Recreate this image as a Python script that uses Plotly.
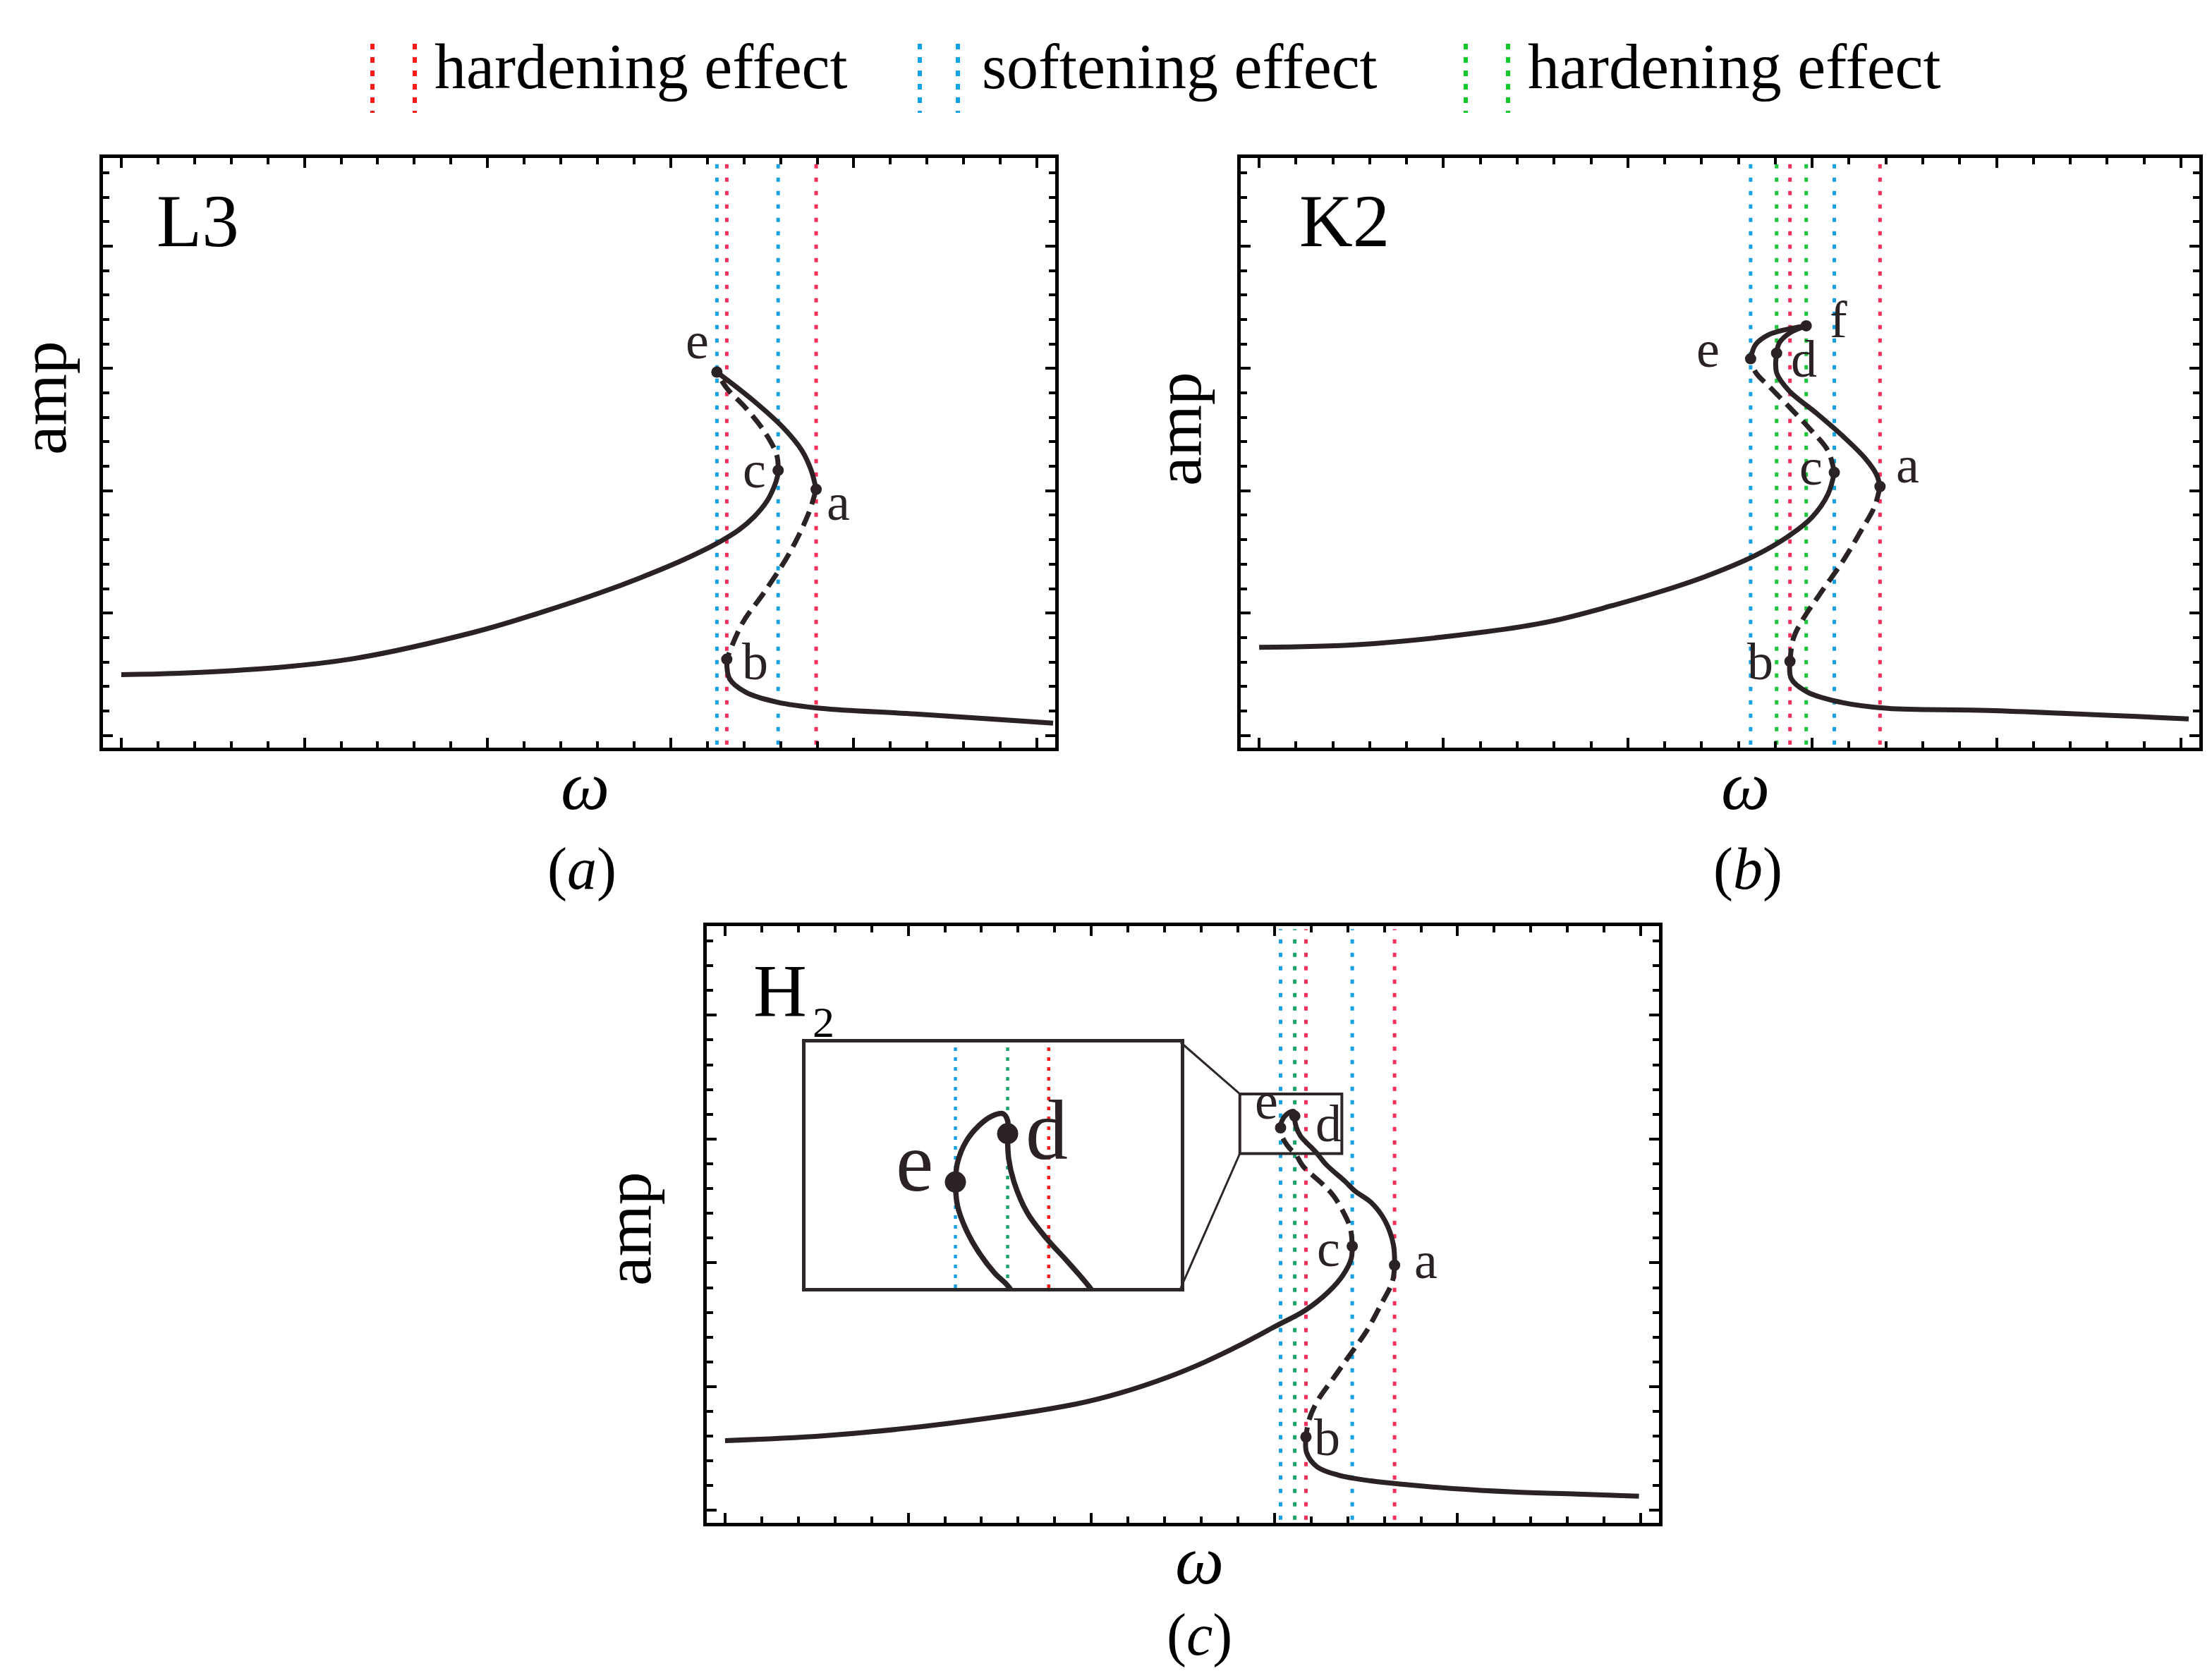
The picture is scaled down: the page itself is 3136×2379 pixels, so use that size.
import plotly.graph_objects as go

W, H = 3136, 2379

# ---------------- data ----------------
# Panel (a)  L3
a_lower_x = [0.0, 1.129, 2.496, 3.871, 4.593, 5.238, 5.668, 6.129, 6.505, 6.744, 6.913, 7.051, 7.128, 7.166, 7.174]
a_lower_y = [0.994, 1.051, 1.246, 1.694, 2.015, 2.336, 2.577, 2.864, 3.140, 3.358, 3.576, 3.828, 4.058, 4.230, 4.333]
a_ce_x = [7.174, 7.158, 7.020, 6.820, 6.613, 6.505]
a_ce_y = [4.333, 4.586, 4.976, 5.354, 5.676, 5.940]
a_ea_x = [6.505, 6.889, 7.228, 7.435, 7.535, 7.589]
a_ea_y = [5.940, 5.492, 5.033, 4.654, 4.333, 4.023]
a_ab_x = [7.589, 7.504, 7.297, 7.020, 6.782, 6.613]
a_ab_y = [4.023, 3.622, 2.979, 2.336, 1.831, 1.246]
a_right_x = [6.613, 6.644, 6.820, 7.158, 7.642, 8.672, 10.177]
a_right_y = [1.246, 0.925, 0.707, 0.546, 0.443, 0.351, 0.202]
a_pt_names = ["a", "b", "c", "e"]
a_pt_x = [7.589, 6.613, 7.174, 6.505]
a_pt_y = [4.023, 1.246, 4.333, 5.940]

# Panel (b)  K2
b_lower_x = [0.0, 1.097, 2.455, 3.165, 3.821, 4.347, 4.844, 5.385, 5.729, 5.996, 6.171, 6.240]
b_lower_y = [1.441, 1.487, 1.694, 1.866, 2.118, 2.348, 2.600, 2.944, 3.243, 3.564, 3.943, 4.299]
b_ce_x = [6.240, 6.171, 5.996, 5.797, 5.553, 5.385, 5.332]
b_ce_y = [4.299, 4.654, 4.976, 5.297, 5.676, 5.940, 6.158]
b_ef_x = [5.332, 5.385, 5.523, 5.729, 5.935]
b_ef_y = [6.158, 6.387, 6.548, 6.640, 6.697]
b_fd_x = [5.935, 5.759, 5.645, 5.614]
b_fd_y = [6.697, 6.582, 6.422, 6.250]
b_da_x = [5.614, 5.614, 5.751, 6.041, 6.339, 6.576, 6.698, 6.736]
b_da_y = [6.250, 5.928, 5.630, 5.274, 4.884, 4.528, 4.264, 4.069]
b_ab_x = [6.736, 6.675, 6.530, 6.339, 6.095, 5.896, 5.797, 5.759]
b_ab_y = [4.069, 3.736, 3.346, 2.864, 2.336, 1.889, 1.590, 1.212]
b_right_x = [5.759, 5.774, 5.950, 6.339, 6.820, 7.903, 10.085]
b_right_y = [1.212, 0.925, 0.707, 0.534, 0.443, 0.408, 0.271]
b_pt_names = ["a", "b", "c", "d", "e", "f"]
b_pt_x = [6.736, 5.759, 6.240, 5.614, 5.332, 5.935]
b_pt_y = [4.069, 1.212, 4.299, 6.250, 6.158, 6.697]

# Panel (c)  H2
c_lower_x = [0.0, 1.087, 2.458, 3.825, 4.316, 4.846, 5.238, 5.622, 6.006, 6.339, 6.595, 6.749, 6.838, 6.850]
c_lower_y = [1.127, 1.206, 1.410, 1.717, 1.898, 2.159, 2.397, 2.669, 2.972, 3.236, 3.539, 3.803, 4.068, 4.268]
c_ce_x = [6.850, 6.828, 6.751, 6.644, 6.521, 6.313, 6.225, 6.185, 6.137, 6.098, 6.073, 6.067]
c_ce_y = [4.268, 4.563, 4.824, 5.085, 5.278, 5.561, 5.770, 5.821, 5.904, 5.996, 6.089, 6.181]
c_ed_x = [6.067, 6.073, 6.098, 6.137, 6.177, 6.209, 6.222, 6.222]
c_ed_y = [6.181, 6.256, 6.339, 6.403, 6.441, 6.449, 6.422, 6.371]
c_da_x = [6.222, 6.225, 6.241, 6.280, 6.337, 6.401, 6.464, 6.567, 6.774, 6.876, 7.056, 7.210, 7.299, 7.312]
c_da_y = [6.371, 6.274, 6.181, 6.061, 5.960, 5.867, 5.770, 5.584, 5.312, 5.164, 4.975, 4.673, 4.294, 3.962]
c_ab_x = [7.312, 7.287, 7.158, 7.005, 6.826, 6.646, 6.467, 6.377, 6.344]
c_ab_y = [3.962, 3.690, 3.312, 2.896, 2.518, 2.140, 1.762, 1.459, 1.187]
c_right_x = [6.344, 6.352, 6.467, 6.697, 7.056, 7.414, 7.926, 8.610, 9.309, 9.981]
c_right_y = [1.187, 0.931, 0.704, 0.571, 0.477, 0.420, 0.356, 0.299, 0.265, 0.231]
c_pt_names = ["a", "b", "c", "d", "e"]
c_pt_x = [7.312, 6.344, 6.850, 6.222, 6.067]
c_pt_y = [3.962, 1.187, 4.268, 6.371, 6.181]

# zoomed window of panel (c) shown in the inset
inset_x_range = [5.622, 6.736]
inset_y_range = [5.765, 6.729]
inset_pt_names = ["e", "d"]

# axis ranges (no tick labels in the reference)
x_range = [-0.2, 10.2]
y_range = [-0.2, 9.44]

legend_labels = ["hardening effect", "softening effect", "hardening effect"]
panel_titles = ["L3", "K2", "H"]
sub_labels = ["(<i>a</i>)", "(<i>b</i>)", "(<i>c</i>)"]

# ---------------- style ----------------
INK = "#2b2323"
FONT = "Liberation Serif"
RED, BLUE, GREEN = "#f2305a", "#17a0e2", "#1ec43c"
GREEN_C = "#1aa46a"
line_kind = {"a": "red", "b": "red", "c": "blue", "e": "blue", "d": "green", "f": "green"}

def px_x(p):
    return p / W

def px_y(p):
    return 1 - p / H

fig = go.Figure()

def branch(x, y, ax, dashed=False, width=7):
    fig.add_trace(go.Scatter(
        x=x, y=y, xaxis=ax[0], yaxis=ax[1], mode="lines",
        line=dict(color=INK, width=width, dash="22px,11px" if dashed else "solid",
                  shape="spline", smoothing=1.0),
        showlegend=False, hoverinfo="skip"))

def dots(x, y, ax, size=16):
    fig.add_trace(go.Scatter(
        x=x, y=y, xaxis=ax[0], yaxis=ax[1], mode="markers",
        marker=dict(color=INK, size=size), showlegend=False, hoverinfo="skip"))

panels = [
    dict(ax=("x", "y"), colors={"red": RED, "blue": BLUE, "green": GREEN},
         branches=[(a_lower_x, a_lower_y, False), (a_ce_x, a_ce_y, True), (a_ea_x, a_ea_y, False),
                   (a_ab_x, a_ab_y, True), (a_right_x, a_right_y, False)],
         names=a_pt_names, px=a_pt_x, py=a_pt_y,
         off={"e": (-28, 45), "c": (-34, 1), "a": (31, -18), "b": (40, -3)}),
    dict(ax=("x2", "y2"), colors={"red": RED, "blue": BLUE, "green": GREEN},
         branches=[(b_lower_x, b_lower_y, False), (b_ce_x, b_ce_y, True), (b_ef_x, b_ef_y, False),
                   (b_fd_x, b_fd_y, False), (b_da_x, b_da_y, False), (b_ab_x, b_ab_y, True),
                   (b_right_x, b_right_y, False)],
         names=b_pt_names, px=b_pt_x, py=b_pt_y,
         off={"f": (46, 9), "e": (-60, 14), "d": (39, -8), "c": (-33, 8), "a": (39, 31), "b": (-42, 0)}),
    dict(ax=("x3", "y3"), colors={"red": RED, "blue": BLUE, "green": GREEN_C},
         branches=[(c_lower_x, c_lower_y, False), (c_ce_x, c_ce_y, True), (c_ed_x, c_ed_y, False),
                   (c_da_x, c_da_y, False), (c_ab_x, c_ab_y, True), (c_right_x, c_right_y, False)],
         names=c_pt_names, px=c_pt_x, py=c_pt_y,
         off={"e": (-20, 38), "d": (48, -11), "c": (-34, -3), "a": (44, 7), "b": (30, -1)}),
]

shapes = []
annotations = []

for p in panels:
    xa, ya = p["ax"]
    # vertical dotted lines through the turning points
    for n, xv in zip(p["names"], p["px"]):
        shapes.append(dict(type="line", xref=xa, yref=ya + " domain", x0=xv, x1=xv, y0=0.005, y1=0.995,
                           layer="below",
                           line=dict(color=p["colors"][line_kind[n]], width=5, dash="6px,13px")))
    for bx, by, dsh in p["branches"]:
        branch(bx, by, p["ax"], dashed=dsh)
    dots(p["px"], p["py"], p["ax"])
    for n, xv, yv in zip(p["names"], p["px"], p["py"]):
        dx, dy = p["off"][n]
        annotations.append(dict(x=xv, y=yv, xref=xa, yref=ya, text=n, showarrow=False,
                                xshift=dx, yshift=dy, font=dict(family=FONT, size=74, color=INK)))

# ---------- inset (magnified part of panel c) ----------
inset_ax = ("x4", "y4")
inset_lookup = dict(zip(c_pt_names, zip(c_pt_x, c_pt_y)))
# dotted guide lines in the inset (drawn first so curves and dots sit on top)
for n, col in (("e", BLUE), ("d", GREEN_C), ("b", "#ff1a1a")):
    xv = inset_lookup[n][0]
    fig.add_trace(go.Scatter(x=[xv, xv], y=inset_y_range, xaxis="x4", yaxis="y4", mode="lines",
                             line=dict(color=col, width=4.5, dash="5px,9px"),
                             showlegend=False, hoverinfo="skip"))
for bx, by, dsh in panels[2]["branches"]:
    branch(bx, by, inset_ax, dashed=False, width=7.5)
ix = [inset_lookup[n][0] for n in inset_pt_names]
iy = [inset_lookup[n][1] for n in inset_pt_names]
dots(ix, iy, inset_ax, size=30)
inset_off = {"e": (-58, 28), "d": (55, 5)}
for n, xv, yv in zip(inset_pt_names, ix, iy):
    dx, dy = inset_off[n]
    annotations.append(dict(x=xv, y=yv, xref="x4", yref="y4", text=n, showarrow=False,
                            xshift=dx, yshift=dy, font=dict(family=FONT, size=120, color=INK)))

# ---------- layout geometry ----------
dom = {
    "a": ([138, 1488], [216, 1052]),
    "b": ([1751, 3110], [216, 1052]),
    "c": ([994, 2344], [1305, 2151]),
    "i": ([1134, 1666], [1470, 1818]),
}

def xdom(k):
    return [px_x(dom[k][0][0]), px_x(dom[k][0][1])]

def ydom(k):
    return [px_y(dom[k][1][1]), px_y(dom[k][1][0])]

def frame_axis(domain, rng, anchor):
    return dict(domain=domain, range=rng, anchor=anchor, showline=True, linewidth=5,
                linecolor="black", mirror="allticks", ticks="inside", ticklen=14, tickwidth=4,
                tickcolor="black", tick0=0, dtick=2, showticklabels=False, showgrid=False,
                zeroline=False,
                minor=dict(ticks="inside", ticklen=9, tickwidth=4, tickcolor="black",
                           tick0=0, dtick=0.4, showgrid=False))

layout = dict(
    width=W, height=H, margin=dict(l=0, r=0, t=0, b=0),
    paper_bgcolor="white", plot_bgcolor="white", showlegend=False,
    xaxis=frame_axis(xdom("a"), x_range, "y"),
    yaxis=frame_axis(ydom("a"), y_range, "x"),
    xaxis2=frame_axis(xdom("b"), x_range, "y2"),
    yaxis2=frame_axis(ydom("b"), y_range, "x2"),
    xaxis3=frame_axis(xdom("c"), x_range, "y3"),
    yaxis3=frame_axis(ydom("c"), y_range, "x3"),
    xaxis4=dict(domain=xdom("i"), range=inset_x_range, anchor="y4", showline=True, linewidth=5,
                linecolor="#2d2626", mirror=True, ticks="", showticklabels=False,
                showgrid=False, zeroline=False),
    yaxis4=dict(domain=ydom("i"), range=inset_y_range, anchor="x4", showline=True, linewidth=5,
                linecolor="#2d2626", mirror=True, ticks="", showticklabels=False,
                showgrid=False, zeroline=False),
)

# box in panel (c) marking the magnified window, plus connector lines
shapes.append(dict(type="rect", xref="x3", yref="y3", x0=inset_x_range[0], x1=inset_x_range[1],
                   y0=inset_y_range[0], y1=inset_y_range[1], line=dict(color="#2d2626", width=4)))

def data_to_paper_x(v):
    d = xdom("c")
    return d[0] + (v - x_range[0]) / (x_range[1] - x_range[0]) * (d[1] - d[0])

def data_to_paper_y(v):
    d = ydom("c")
    return d[0] + (v - y_range[0]) / (y_range[1] - y_range[0]) * (d[1] - d[0])

bx0 = data_to_paper_x(inset_x_range[0])
by0 = data_to_paper_y(inset_y_range[0])
by1 = data_to_paper_y(inset_y_range[1])
ixd, iyd = xdom("i"), ydom("i")
shapes.append(dict(type="line", xref="paper", yref="paper", x0=bx0, y0=by1, x1=ixd[1], y1=iyd[1],
                   line=dict(color="#2d2626", width=3)))
shapes.append(dict(type="line", xref="paper", yref="paper", x0=bx0, y0=by0, x1=ixd[1], y1=iyd[0],
                   line=dict(color="#2d2626", width=3)))

# ---------- legend at the top ----------
leg = [((520, 580), "#ff1a1a", 606, legend_labels[0]),
       ((1296, 1350), "#12a0e6", 1382, legend_labels[1]),
       ((2070, 2130), "#14c828", 2156, legend_labels[2])]
for (l1, l2), col, tx, txt in leg:
    for lx in (l1, l2):
        shapes.append(dict(type="line", xref="paper", yref="paper", x0=px_x(lx), x1=px_x(lx),
                           y0=px_y(54), y1=px_y(152), line=dict(color=col, width=6, dash="8px,11px")))
    annotations.append(dict(x=px_x(tx), y=px_y(86), xref="paper", yref="paper", text=txt,
                            showarrow=False, xanchor="left", yanchor="middle",
                            font=dict(family=FONT, size=90, color="black")))

# ---------- panel titles, axis titles, sub-figure labels ----------
for (lx, cy), t in zip(((212, 306), (1832, 306), (1058, 1396)), panel_titles):
    annotations.append(dict(x=px_x(lx), y=px_y(cy), xref="paper", yref="paper", text=t,
                            showarrow=False, xanchor="left", yanchor="middle",
                            font=dict(family=FONT, size=105, color="black")))
annotations.append(dict(x=px_x(1142), y=px_y(1441), xref="paper", yref="paper", text="2",
                        showarrow=False, xanchor="left", yanchor="middle",
                        font=dict(family=FONT, size=62, color="black")))

for cx, cy in ((53, 556), (1662, 600), (882, 1734)):
    annotations.append(dict(x=px_x(cx), y=px_y(cy), xref="paper", yref="paper", text="amp",
                            showarrow=False, textangle=-90, xanchor="center", yanchor="middle",
                            font=dict(family=FONT, size=94, color="black")))

for (cx, cy), (sx, sy), s in zip(((821, 1106), (2466, 1106), (1692, 2204)),
                                 ((817, 1224), (2470, 1224), (1692, 2310)), sub_labels):
    annotations.append(dict(x=px_x(cx), y=px_y(cy), xref="paper", yref="paper", text="<i>ω</i>",
                            showarrow=False, xanchor="center", yanchor="middle",
                            font=dict(family=FONT, size=98, color="black")))
    annotations.append(dict(x=px_x(sx), y=px_y(sy), xref="paper", yref="paper", text=s,
                            showarrow=False, xanchor="center", yanchor="middle",
                            font=dict(family=FONT, size=84, color="black")))

layout["shapes"] = shapes
layout["annotations"] = annotations
fig.update_layout(**layout)
fig.write_html("out.html")
